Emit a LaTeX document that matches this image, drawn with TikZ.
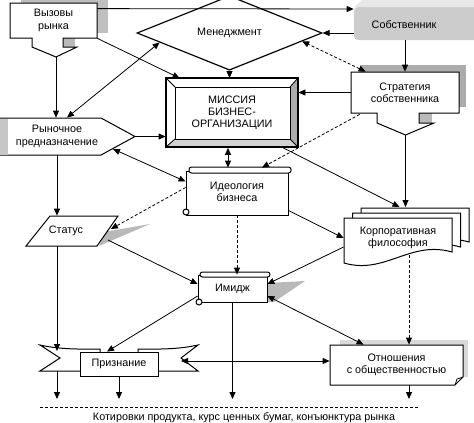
\documentclass[tikz,border=0pt]{standalone}
\usepackage{fontspec}
\setmainfont{Liberation Sans}
\usetikzlibrary{arrows.meta, shapes.geometric, calc}

\begin{document}
\begin{tikzpicture}[x=1pt, y=-1pt, line width=0.8pt,
	box/.style={draw, fill=white, line width=1pt},
	lbl/.style={inner sep=0pt, align=center, font=\fontsize{10.8}{12.2}\selectfont},
	arr/.style={-{Triangle[length=7pt,width=6pt]}},
	barr/.style={{Triangle[length=7pt,width=6pt]}-{Triangle[length=7pt,width=6pt]}},
	dsh/.style={dash pattern=on 3pt off 2pt}]
			\useasboundingbox (0,0) rectangle (474,423);
			\fill[gray!50] (21,-3) rectangle (108,33);
			\fill[gray!55] (63,38) rectangle (75,47);
			\draw[box] (10,3) -- (97,3) -- (97,38) -- (63,38) -- (63,47) -- (77,47) -- (56,57) -- (32,47) -- (32,38) -- (10,38) -- cycle;
			\fill[gray!40, rounded corners=4pt] (354,7) rectangle (484,40);
			\fill[gray!18] (354,7) -- (362,0) -- (474,0) -- (474,7) -- cycle;
			\fill[gray!65] (360,65) rectangle (466,107);
			\fill[gray!55] (419,113) rectangle (432,123);
			\draw[box] (351,72) -- (459,72) -- (459,113) -- (419,113) -- (419,123) -- (434,123) -- (405.5,135) -- (377,123) -- (377,113) -- (351,113) -- cycle;
			\draw[box, line width=1.2pt] (166,78) rectangle (298,147);
			\fill[gray!65] (290,87) -- (298,78) -- (298,147) -- (290,139) -- cycle;
			\fill[gray!35] (175,139) -- (290,139) -- (298,147) -- (166,147) -- cycle;
			\draw (175,87) rectangle (290,139);
			\draw (166,78) -- (175,87) (298,78) -- (290,87) (166,147) -- (175,139) (298,147) -- (290,139);
			\draw[line width=1.2pt] (166,78) rectangle (298,147);
			\draw[box] (0,118) -- (101,118) -- (135,136.5) -- (101,155) -- (0,155);
			\fill[gray!45] (0,118.5) rectangle (8,154.5);
			\draw[box] (186,171) rectangle (288,215);
			\draw[box, rounded corners=2.5pt] (189,167) rectangle (291,173);
			\draw[box] (186,212) circle[radius=3];
			\fill[gray!55] (104,232) -- (150,224) -- (99,246) -- cycle;
			\draw[box] (50,216) -- (118,216) -- (97,246) -- (26,246) -- cycle;
			\foreach \s in {2,1,0}
				\draw[box, shift={(8.5*\s,-5*\s)}] (344,218) -- (452,218) -- (452,252) .. controls (410,240) and (385,275) .. (344,263) -- cycle;
			\fill[gray!55] (268,283) -- (305,281) -- (274,302) -- (268,302) -- cycle;
			\draw[box] (198,275) rectangle (267,302);
			\draw[box, rounded corners=2.5pt] (200,272) rectangle (270,277);
			\draw[box] (199,302) circle[radius=3];
			\fill[gray!30] (340,340) rectangle (468,377);
			\draw[box] (330,345) -- (463,345) -- (463,377) -- (455,385) -- (330,385) -- cycle;
			\draw (455,385) -- (457,379) -- (463,377);
			\draw[box] (40,345) .. controls (62,350) and (85,349) .. (100,349) -- (100,371) -- (40,371) -- (60,358) -- cycle;
			\draw[box] (198,345) .. controls (176,350) and (153,349) .. (138,349) -- (138,371) -- (198,371) -- (181,358) -- cycle;
			\draw[box] (80,352) rectangle (158,376);
			\node[lbl, minimum width=87pt, minimum height=35pt] (vyzov) at (53.5,20.5) {Вызовы\\рынка};
			\node[lbl, diamond, draw, fill=white, line width=1.2pt, minimum width=185pt, minimum height=46pt] (menedzh) at (229.5,33) {Менеджмент};
			\node[lbl, minimum width=100pt, minimum height=30pt] (sobst) at (404,25) {Собственник};
			\node[lbl, minimum width=108pt, minimum height=41pt] (strat) at (405,92.5) {Стратегия\\собственника};
			\node[lbl, minimum width=132pt, minimum height=69pt] (missia) at (232,113) {МИССИЯ\\БИЗНЕС-\\ОРГАНИЗАЦИИ};
			\node[lbl, minimum width=114pt, minimum height=37pt] (rynok) at (57,136.5) {Рыночное\\предназначение};
			\node[lbl, minimum width=102pt, minimum height=47pt] (ideol) at (237,191.5) {Идеология\\бизнеса};
			\node[lbl, minimum width=83pt, minimum height=30pt] (status) at (66,231) {Статус};
			\node[lbl, minimum width=108pt, minimum height=40pt] (korp) at (398,238) {Корпоративная\\философия};
			\node[lbl, minimum width=69pt, minimum height=28pt] (imidzh) at (232.5,289) {Имидж};
			\node[lbl, minimum width=78pt, minimum height=24pt] (priznan) at (119,364) {Признание};
			\node[lbl, minimum width=133pt, minimum height=40pt] (otnosh) at (396.5,365) {Отношения\\с общественностью};
			\node[lbl] (kotir) at (244,418) {Котировки продукта, курс ценных бумаг, конъюнктура рынка};
			\coordinate (vyzovtip) at (56,57);
			\coordinate (rynoktip) at (135,136.5);
			\coordinate (rynokse) at (113,149);
			\coordinate (strattip) at (405.5,135);
			\coordinate (korptop) at (405.5,207);
			\coordinate (korpbot) at (409,255);
			\coordinate (hub) at (232.5,361);
			\coordinate (priznR) at (181,361);
			\coordinate (ribtop) at (0,351);
			\coordinate (ribbot) at (0,371);
			\coordinate (base) at (0,399);
			\draw[arr] ($(vyzov.north east)+(0,6)$) -- ($(sobst.west)+(0,-16)$);
			\draw[arr] (vyzovtip) -- (vyzovtip |- rynok.north);
			\draw[arr] (vyzov.south east) -- ($(missia.north west)+(14,0)$);
			\draw[arr] (menedzh.south) -- (menedzh.south |- missia.north);
			\draw[barr] ($(menedzh.west)!0.25!(menedzh.south)$) -- ($(rynok.north)+(10,0)$);
			\draw[arr] (sobst.west |- menedzh.east) -- (menedzh.east);
			\draw[arr] (sobst.south -| strat.north) -- (strat.north);
			\draw[barr, dsh] ($(strat.north west)+(15,0)$) -- ($(menedzh.east)!0.22!(menedzh.south)$);
			\draw[arr] (strat.west) -- (strat.west -| missia.east);
			\draw[arr, dsh] ($(strat.south west)+(9,1)$) -- ($(ideol.north)+(25,0)$);
			\draw[arr] (strattip) -- (korptop);
			\draw[arr] ($(missia.south east)+(-15,0)$) -- ($(korptop)+(-6,0)$);
			\draw[arr] (rynoktip) -- (rynoktip -| missia.west);
			\draw[barr] ($(missia.south)+(-4,0)$) -- ($(ideol.north)+(-9,0)$);
			\draw[barr] (rynokse) -- ($(ideol.west)+(0,-10)$);
			\draw[arr] (rynok.south) -- (rynok.south |- status.north);
			\draw[arr, dsh] ($(ideol.west)+(0,-4)$) -- ($(status.east)+(3,-2)$);
			\draw[arr] ($(status.east)+(0,9)$) -- ($(imidzh.west)+(0,-5)$);
			\draw[arr, dsh] (ideol.south) -- (ideol.south |- imidzh.north);
			\draw[arr] ($(ideol.south east)+(0,-5)$) -- (korp.west);
			\draw[arr] ($(korp.west)+(0,9)$) -- ($(imidzh.east)+(0,-5)$);
			\draw[arr, dsh] (korpbot) -- (korpbot |- otnosh.north);
			\draw[barr] ($(otnosh.north west)+(34,0)$) -- ($(imidzh.east)+(0,7)$);
			\draw[arr] ($(imidzh.west)+(0,7)$) -- ($(priznan.north)+(-12,0)$);
			\draw[arr] (imidzh.south) -- (imidzh.south |- base);
			\draw[arr] (hub) -- (hub -| otnosh.west);
			\draw[arr] (hub) -- (priznR);
			\draw[arr] (rynok.south |- status.south) -- (rynok.south |- ribtop);
			\draw[arr] (rynok.south |- ribbot) -- (rynok.south |- base);
			\draw[arr] (priznan.south) -- (priznan.south |- base);
			\draw[arr] (korpbot |- otnosh.south) -- (korpbot |- base);
			\draw[dsh] (40,407) -- (419,407);
			\end{tikzpicture}
\end{document}
